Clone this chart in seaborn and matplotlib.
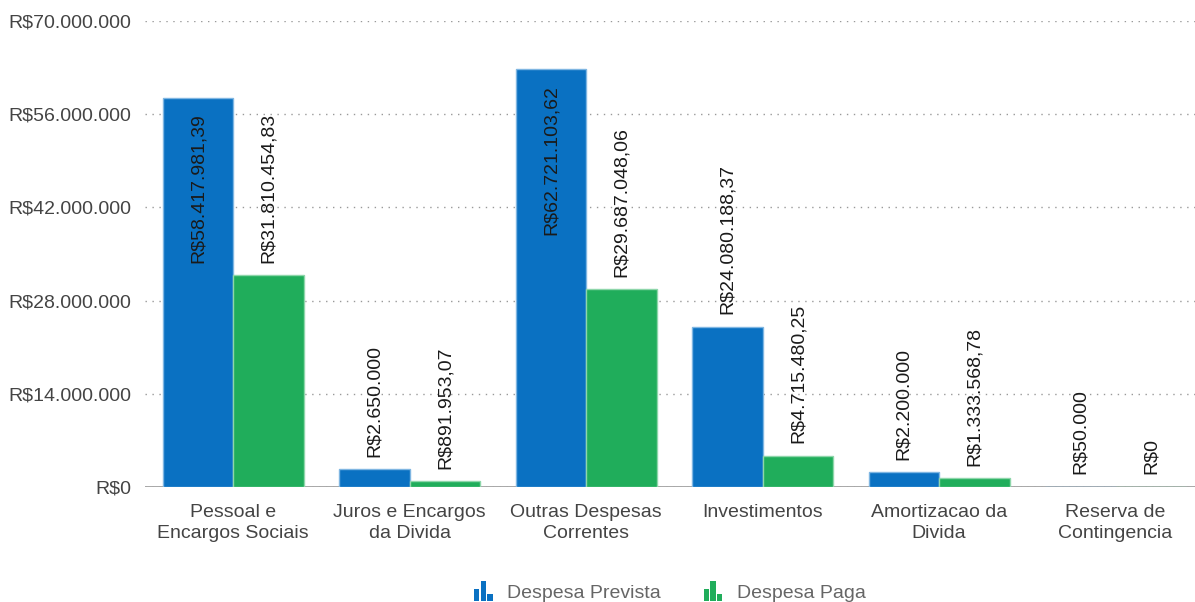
import matplotlib
matplotlib.use("Agg")
import matplotlib.pyplot as plt
from matplotlib.patches import Rectangle
from matplotlib.legend_handler import HandlerBase
import seaborn as sns
import pandas as pd

categorias = [
    "Pessoal e\nEncargos Sociais",
    "Juros e Encargos\nda Divida",
    "Outras Despesas\nCorrentes",
    "Investimentos",
    "Amortizacao da\nDivida",
    "Reserva de\nContingencia",
]
despesa_prevista = [58417981.39, 2650000.00, 62721103.62, 24080188.37, 2200000.00, 50000.00]
despesa_paga = [31810454.83, 891953.07, 29687048.06, 4715480.25, 1333568.78, 0.00]
series = ["Despesa Prevista", "Despesa Paga"]
yticks = [0, 14000000, 28000000, 42000000, 56000000, 70000000]

cores = {"Despesa Prevista": "#0A71C2", "Despesa Paga": "#20AD5B"}
bordas = {"Despesa Prevista": "#7FB6E2", "Despesa Paga": "#8ED6AA"}


def brl(v, decimais=None):
    if decimais is None:
        decimais = 0 if float(v).is_integer() else 2
    s = f"{v:,.{decimais}f}"
    s = s.replace(",", "X").replace(".", ",").replace("X", ".")
    return "R$" + s


df = pd.DataFrame({
    "categoria": categorias * 2,
    "serie": [series[0]] * len(categorias) + [series[1]] * len(categorias),
    "valor": despesa_prevista + despesa_paga,
})

sns.set_theme(style="white")
plt.rcParams["font.family"] = ["Liberation Sans", "DejaVu Sans"]

fig = plt.figure(figsize=(11.95, 6.02), dpi=100)
ax = fig.add_axes([145 / 1195, 115 / 602, 1050 / 1195, 466 / 602])

sns.barplot(
    data=df, x="categoria", y="valor", hue="serie", hue_order=series,
    palette=cores, ax=ax, width=0.8, saturation=1, legend=False,
)

for cont, serie in zip(ax.containers, series):
    for p in cont.patches:
        p.set_edgecolor(bordas[serie])
        p.set_linewidth(1.0)
        p.set_zorder(2)

ax.set_xlim(-0.5, 5.45)
ax.set_ylim(0, 70000000)
ax.set_yticks(yticks)
ax.set_yticklabels([brl(t, 0) for t in yticks], fontsize=14, color="#444444")
ax.set_xticks(range(len(categorias)))
ax.set_xticklabels(categorias, fontsize=14, color="#444444", linespacing=1.3)
ax.tick_params(axis="both", length=0)
ax.tick_params(axis="y", pad=10)
ax.tick_params(axis="x", pad=12)
ax.set_xlabel("")
ax.set_ylabel("")
for s in ax.spines.values():
    s.set_visible(False)

ax.grid(False)
for t in yticks:
    ax.axhline(t, color="#999999", linestyle=(0, (1, 4)), linewidth=1.0, zorder=0)
ax.axhline(0, color="#9a9a9a", linewidth=1.2, zorder=1)

# Value labels: above the bar, or inside near its top when they would leave the plot
fig.canvas.draw()
renderer = fig.canvas.get_renderer()
ax_top = ax.get_window_extent(renderer).y1
for cont, vals in zip(ax.containers, [despesa_prevista, despesa_paga]):
    for p, v in zip(cont.patches, vals):
        x = p.get_x() + p.get_width() / 2
        txt = ax.annotate(
            brl(v), (x, v), xytext=(0, 9), textcoords="offset points",
            rotation=90, ha="center", va="bottom", fontsize=14, color="#1a1a1a",
            zorder=3,
        )
        ext = txt.get_window_extent(renderer)
        if ext.y1 > ax_top:
            txt.set_va("top")
            txt.xyann = (0, -11)


class BarIconHandler(HandlerBase):
    def create_artists(self, legend, orig_handle, xdescent, ydescent,
                       width, height, fontsize, trans):
        c = orig_handle.get_facecolor()
        w = width / 4.2
        hs = [0.6, 1.0, 0.35]
        arts = []
        for i, h in enumerate(hs):
            r = Rectangle((xdescent + i * (w + w * 0.3), -ydescent - height * 0.1),
                          w, height * 1.15 * h, facecolor=c, edgecolor="none",
                          transform=trans)
            arts.append(r)
        return arts


handles = [Rectangle((0, 0), 1, 1, facecolor=cores[s]) for s in series]
leg = ax.legend(
    handles, series, loc="center", bbox_to_anchor=(0.5, (602 - 592 - 115) / 466),
    ncol=2, frameon=False, fontsize=14, handler_map={Rectangle: BarIconHandler()},
    handlelength=1.1, handleheight=1.0, handletextpad=0.6, columnspacing=2.2,
)
for t in leg.get_texts():
    t.set_color("#666666")

fig.savefig("out.png", dpi=100)
